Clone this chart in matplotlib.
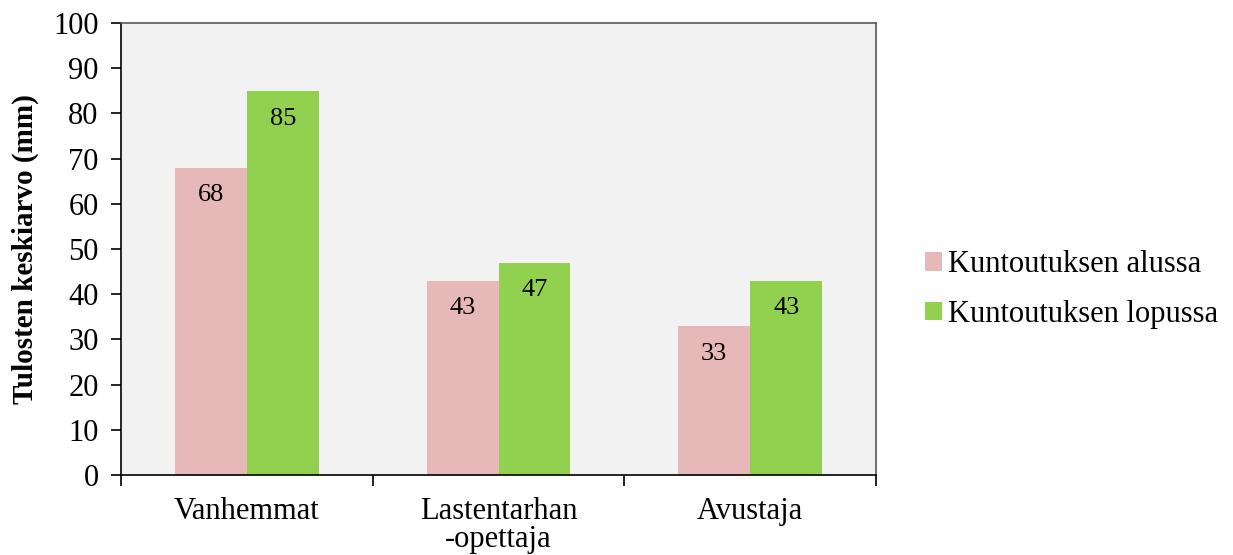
import numpy as np
import matplotlib.pyplot as plt
from matplotlib.ticker import FixedLocator

plt.rcParams['font.family'] = ['Liberation Serif', 'DejaVu Serif']

categories = ['Vanhemmat', 'Lastentarhan\n-opettaja', 'Avustaja']
alussa = [68, 43, 33]
lopussa = [85, 47, 43]
series_names = ['Kuntoutuksen alussa', 'Kuntoutuksen lopussa']

pink = '#E6B9B8'
green = '#92D050'

fig = plt.figure(figsize=(12.33, 5.55), dpi=100)
ax = fig.add_axes([0.0981, 0.1441, 0.6124, 0.8145])
ax.set_facecolor('#F2F2F2')

x = np.arange(len(categories))
w = 0.286
b1 = ax.bar(x - w / 2, alussa, w, color=pink, label=series_names[0])
b2 = ax.bar(x + w / 2, lopussa, w, color=green, label=series_names[1])

for bars, vals in ((b1, alussa), (b2, lopussa)):
    for r, v in zip(bars, vals):
        ax.annotate(str(v), (r.get_x() + r.get_width() / 2, v),
                    xytext=(0, -20), textcoords='offset points',
                    ha='center', va='center', fontsize=19)

ax.set_xlim(-0.5, 2.5)
ax.set_ylim(0, 100)
ax.set_yticks(range(0, 101, 10))
ax.tick_params(axis='y', labelsize=22, length=7, width=1.2, pad=9)

ax.set_xticks(x)
ax.set_xticklabels(categories, fontsize=22, linespacing=0.95)
ax.tick_params(axis='x', which='major', length=0, pad=16)
ax.xaxis.set_minor_locator(FixedLocator([-0.5, 0.5, 1.5, 2.5]))
ax.tick_params(axis='x', which='minor', length=8, width=1.2)

for s in ('left', 'bottom'):
    ax.spines[s].set_color('black')
    ax.spines[s].set_linewidth(1.2)
for s in ('top', 'right'):
    ax.spines[s].set_color('#595959')
    ax.spines[s].set_linewidth(1.2)

ax.set_ylabel('Tulosten keskiarvo (mm)', fontsize=21, fontweight='bold', labelpad=10)

ax.legend(loc='center left', bbox_to_anchor=(1.065, 0.41), frameon=False,
          fontsize=22, handlelength=0.55, handleheight=0.55,
          handletextpad=0.2, labelspacing=0.68, borderpad=0, borderaxespad=0)

fig.savefig('out.png', dpi=100)
